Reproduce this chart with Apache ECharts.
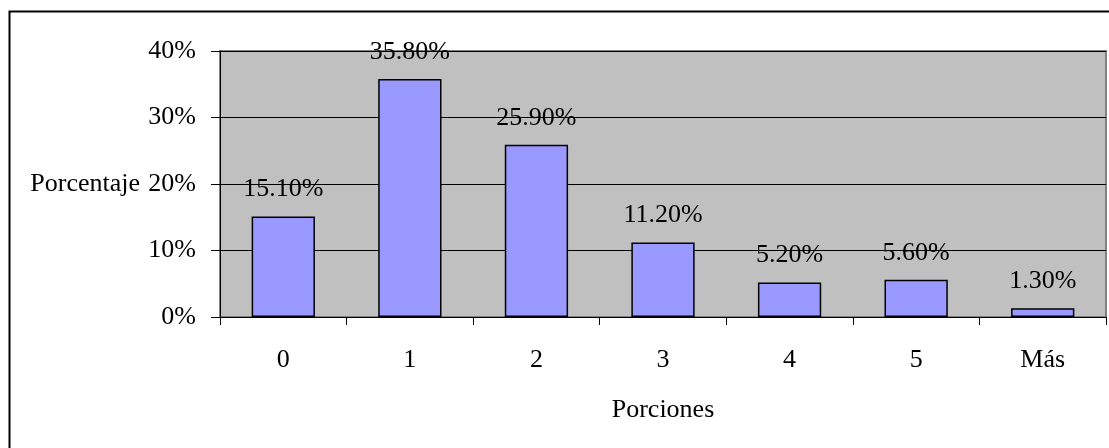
<!DOCTYPE html>
<html>
<head>
<meta charset="utf-8">
<script src="https://cdn.jsdelivr.net/npm/echarts@6/dist/echarts.min.js"></script>
<style>
html,body{margin:0;padding:0;background:#fff;}
#c{width:1109px;height:448px;}
</style>
</head>
<body>
<div id="c"></div>
<script>
const categories = ['0', '1', '2', '3', '4', '5', 'Más'];
const values = [15.1, 35.8, 25.9, 11.2, 5.2, 5.6, 1.3];
const yTicks = [0, 10, 20, 30, 40];
const yAxisName = 'Porcentaje';
const xAxisName = 'Porciones';

const FONT = "'Liberation Serif', 'Times New Roman', serif";
const FS = 26;

const chart = echarts.init(document.getElementById('c'), null, {renderer: 'canvas'});
chart.setOption({
  animation: false,
  backgroundColor: '#fff',
  textStyle: {fontFamily: FONT, color: '#000'},
  graphic: [{
    type: 'rect',
    left: 7, top: 9,
    shape: {width: 1120, height: 460},
    style: {fill: 'none', stroke: '#000', lineWidth: 2},
    silent: true
  }],
  grid: {
    left: 220, top: 51, right: 3, bottom: 131,
    show: true,
    backgroundColor: '#C0C0C0',
    borderColor: '#808080',
    borderWidth: 2
  },
  xAxis: {
    type: 'category',
    data: categories,
    boundaryGap: true,
    name: xAxisName,
    nameLocation: 'middle',
    nameGap: 80,
    nameTextStyle: {fontFamily: FONT, fontSize: FS, color: '#000'},
    axisLine: {lineStyle: {color: '#000', width: 1}},
    axisTick: {show: true, length: 8, lineStyle: {color: '#000'}},
    axisLabel: {fontFamily: FONT, fontSize: FS, color: '#000', margin: 30},
    splitLine: {show: false}
  },
  yAxis: {
    type: 'value',
    min: yTicks[0],
    max: yTicks[yTicks.length - 1],
    interval: 10,
    name: yAxisName,
    nameLocation: 'middle',
    nameRotate: 0,
    nameGap: 80,
    nameTextStyle: {fontFamily: FONT, fontSize: FS, color: '#000'},
    axisLine: {show: true, lineStyle: {color: '#000', width: 1}},
    axisTick: {show: true, length: 9, lineStyle: {color: '#000'}},
    axisLabel: {fontFamily: FONT, fontSize: FS, color: '#000', margin: 24, formatter: '{value}%'},
    splitLine: {show: true, lineStyle: {color: '#000', width: 1}}
  },
  series: [{
    type: 'bar',
    data: values,
    barWidth: '50%',
    itemStyle: {color: '#9999FF', borderColor: '#000', borderWidth: 1.5},
    label: {
      show: true,
      position: 'top',
      distance: 14,
      fontFamily: FONT,
      fontSize: FS,
      color: '#000',
      formatter: p => p.value.toFixed(2) + '%'
    }
  }]
});
</script>
</body>
</html>
